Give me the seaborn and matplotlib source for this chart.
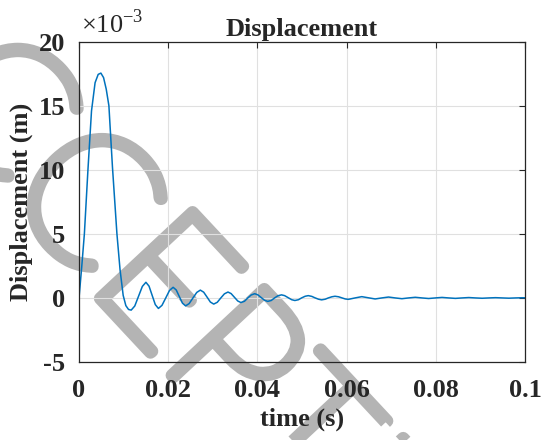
"""
Displacement time history (MATLAB-style figure) redrawn with seaborn.
"""

import matplotlib
matplotlib.use("Agg")
import matplotlib.pyplot as plt
import matplotlib.patheffects as pe
import seaborn as sns

# Figure settings
FIG_W, FIG_H, FIG_DPI = 5.42, 4.40, 100
LINE_COLOR = "#0072BD"
TICK_FONTSIZE = 19
LABEL_FONTSIZE = 19
TITLE_FONTSIZE = 19

# Data (displacement in units of 1e-3 m)
time_s = [
    0.0, 0.0006, 0.0012, 0.0020, 0.0028, 0.0036, 0.0043, 0.0049, 0.0055, 0.0061,
    0.0067, 0.0075, 0.0085, 0.0092, 0.0099, 0.0105, 0.0111, 0.0117,
    0.0125, 0.01335, 0.0142, 0.0150,
    0.0157, 0.0164, 0.0171, 0.0178,
    0.0186, 0.01945, 0.0203, 0.0211,
    0.0218, 0.0225, 0.0232, 0.0239,
    0.0247, 0.02555, 0.0264, 0.0272,
    0.02795, 0.0287, 0.02945, 0.0302,
    0.0310, 0.0318, 0.0326, 0.0334,
    0.0341, 0.03485, 0.0356, 0.0363,
    0.0371, 0.03785, 0.0386, 0.0394,
    0.0401, 0.04085, 0.0416, 0.0423,
    0.0431, 0.04385, 0.0446, 0.0454,
    0.0461, 0.0469, 0.0477, 0.0484,
    0.0492, 0.0499, 0.0507, 0.0514,
    0.0522, 0.0529, 0.0537, 0.0544,
    0.0552, 0.0559, 0.0567, 0.0574,
    0.0582, 0.0589, 0.0597, 0.0604,
    0.0619, 0.0634, 0.0649, 0.0664, 0.0679, 0.0694, 0.0709, 0.0724,
    0.0739, 0.0754, 0.0769, 0.0784, 0.0799, 0.0814, 0.0829, 0.0844,
    0.0859, 0.0874, 0.0889, 0.0904, 0.0919, 0.0934, 0.0949, 0.0964,
    0.0979, 0.0994, 0.1,
]
displacement_e3 = [
    0.0, 2.4, 5.0, 10.0, 14.6, 16.8, 17.45, 17.55, 17.2, 16.3,
    15.0, 10.2, 5.0, 2.2, 0.2, -0.6, -0.9, -0.95,
    -0.63, 0.135, 0.90, 1.22,
    0.92, 0.2, -0.52, -0.82,
    -0.58, 0.0, 0.59, 0.83,
    0.62, 0.1, -0.41, -0.62,
    -0.44, 0.0, 0.43, 0.61,
    0.45, 0.07, -0.32, -0.48,
    -0.34, 0.0, 0.32, 0.46,
    0.34, 0.05, -0.24, -0.36,
    -0.26, 0.0, 0.23, 0.33,
    0.24, 0.03, -0.18, -0.27,
    -0.2, 0.0, 0.17, 0.24,
    0.18, 0.02, -0.14, -0.2,
    -0.14, 0.0, 0.13, 0.18,
    0.12, 0.01, -0.1, -0.15,
    -0.1, 0.0, 0.09, 0.13,
    0.09, 0.01, -0.08, -0.11,
    0.0, 0.10, 0.01, -0.08, 0.0, 0.07, 0.0, -0.06,
    0.0, 0.05, 0.0, -0.045, 0.0, 0.04, 0.0, -0.035,
    0.0, 0.03, 0.0, -0.025, 0.0, 0.02, 0.0, -0.02,
    0.0, 0.015, 0.01,
]

x_ticks = [0, 0.02, 0.04, 0.06, 0.08, 0.1]
x_tick_labels = ["0", "0.02", "0.04", "0.06", "0.08", "0.1"]
y_ticks = [-5, 0, 5, 10, 15, 20]
y_tick_labels = ["-5", "0", "5", "10", "15", "20"]


def main():
    sns.set_theme(style="white")
    plt.rcParams["font.family"] = ["Liberation Serif", "DejaVu Serif"]
    plt.rcParams["mathtext.fontset"] = "custom"
    plt.rcParams["mathtext.rm"] = "Liberation Serif"
    plt.rcParams["axes.unicode_minus"] = False

    fig = plt.figure(figsize=(FIG_W, FIG_H), dpi=FIG_DPI)
    fig.patch.set_facecolor("white")
    ax = fig.add_axes([0.1458, 0.1773, 0.8228, 0.7279])
    ax.patch.set_alpha(0)  # let the watermark show through the plot area

    sns.lineplot(x=time_s, y=displacement_e3, ax=ax, color=LINE_COLOR,
                 linewidth=1.1, estimator=None, sort=False)

    ax.set_xlim(0, 0.1)
    ax.set_ylim(-5, 20)
    ax.set_xticks(x_ticks)
    ax.set_xticklabels(x_tick_labels, fontsize=TICK_FONTSIZE, fontweight="bold")
    ax.set_yticks(y_ticks)
    ax.set_yticklabels(y_tick_labels, fontsize=TICK_FONTSIZE, fontweight="bold")
    ax.tick_params(axis="both", direction="in", length=4, width=0.8,
                   colors="#262626", top=True, right=True)
    ax.tick_params(axis="x", pad=12)
    ax.tick_params(axis="y", pad=10)

    # MATLAB-like grid and box
    ax.grid(True, color="#e0e0e0", linewidth=0.8)
    for spine in ax.spines.values():
        spine.set_color("#262626")
        spine.set_linewidth(0.9)

    ax.set_title("Displacement", fontsize=TITLE_FONTSIZE, fontweight="bold",
                 pad=4)
    ax.set_xlabel("time (s)", fontsize=LABEL_FONTSIZE, fontweight="bold",
                  labelpad=4)
    ax.set_ylabel("Displacement (m)", fontsize=LABEL_FONTSIZE,
                  fontweight="bold", labelpad=4)

    # exponent note in the top left corner
    ax.text(0.005, 1.012, r"$\times10^{-3}$", transform=ax.transAxes,
            fontsize=TICK_FONTSIZE, ha="left", va="bottom")

    # grey watermark behind the plot (thin glyphs thickened by a stroke)
    wm = fig.text(0.343, 0.275, "ACCEPTED", fontsize=130, color=(0, 0, 0, 0),
                  family=["Lato", "DejaVu Sans"], fontweight="light",
                  rotation=-47, rotation_mode="anchor", ha="center",
                  va="center", zorder=-1)
    wm.set_path_effects([pe.Stroke(linewidth=9, foreground="#b4b4b4")])

    fig.savefig("out.png", dpi=FIG_DPI)
    plt.close(fig)


if __name__ == "__main__":
    main()
